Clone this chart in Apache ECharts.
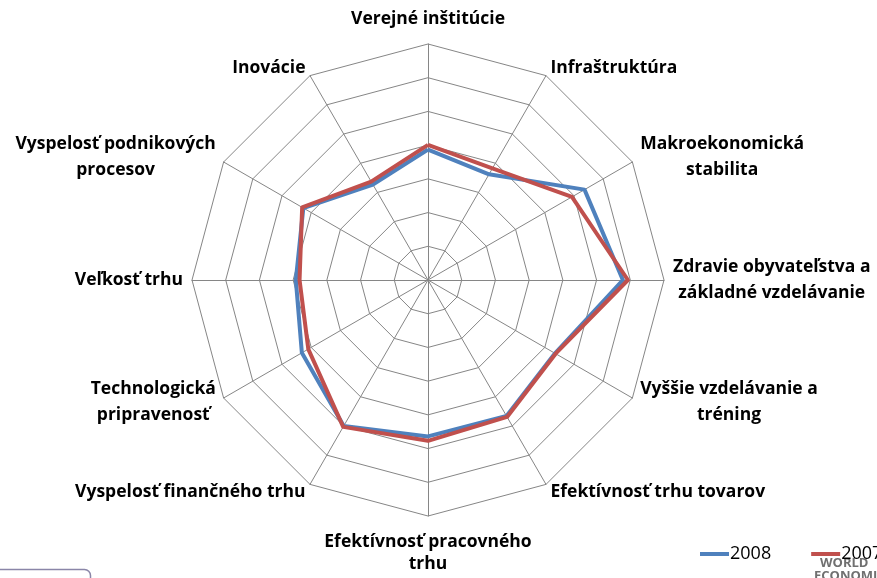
<!DOCTYPE html>
<html>
<head>
<meta charset="utf-8">
<script src="https://cdn.jsdelivr.net/npm/echarts@6/dist/echarts.min.js"></script>
<style>
  html, body { margin: 0; padding: 0; background: #fff; }
  #chart { width: 877px; height: 578px; }
</style>
</head>
<body>
<div id="chart"></div>
<script>
// indicators in clockwise order from the top
const pillars = [
  'Verejné inštitúcie',
  'Infraštruktúra',
  'Makroekonomická\nstabilita',
  'Zdravie obyvateľstva a\nzákladné vzdelávanie',
  'Vyššie vzdelávanie a\ntréning',
  'Efektívnosť trhu tovarov',
  'Efektívnosť pracovného\ntrhu',
  'Vyspelosť finančného trhu',
  'Technologická\npripravenosť',
  'Veľkosť trhu',
  'Vyspelosť podnikových\nprocesov',
  'Inovácie'
];
const scores2008 = [3.87, 3.62, 5.36, 5.78, 4.35, 4.66, 4.64, 5.0, 4.32, 3.92, 4.27, 3.27];
const scores2007 = [4.01, 3.82, 4.93, 5.93, 4.37, 4.69, 4.77, 5.03, 4.1, 3.81, 4.31, 3.37];
const scaleMax = 7;

// radar runs counter-clockwise, so flip everything after the first axis
const cw = arr => [arr[0]].concat(arr.slice(1).reverse());

const chart = echarts.init(document.getElementById('chart'));

const labelFont = '"Open Sans", sans-serif';

const option = {
  backgroundColor: '#fff',
  textStyle: { fontFamily: labelFont },
  legend: {
    left: 695,
    top: 540,
    width: 300,
    itemGap: 40,
    itemWidth: 29,
    itemHeight: 4,
    icon: 'rect',
    data: ['2008', '2007'],
    textStyle: { fontSize: 18, color: '#000', padding: [0, 0, 0, -4] }
  },
  radar: {
    center: [428, 280],
    radius: 236,
    startAngle: 90,
    shape: 'polygon',
    splitNumber: 7,
    axisNameGap: 9,
    indicator: cw(pillars).map(name => ({ name: name, min: 0, max: scaleMax })),
    axisName: {
      formatter: function (name) {
        let key = 'n';
        if (name === pillars[0]) key = 't';
        if (name === pillars[6]) key = 'b';
        return name.split('\n').map((line, i) =>
          '{' + (i === 0 ? key : 'n') + '|' + line + '}').join('\n');
      },
      rich: {
        n: { fontSize: 17.5, fontWeight: 'bold', color: '#000', align: 'center', lineHeight: 26, fontFamily: labelFont },
        t: { fontSize: 17.5, fontWeight: 'bold', color: '#000', align: 'center', lineHeight: 26, fontFamily: labelFont, padding: [0, 0, 6, 0] },
        b: { fontSize: 17.5, fontWeight: 'bold', color: '#000', align: 'center', lineHeight: 26, fontFamily: labelFont, padding: [8, 0, 0, 0] }
      }
    },
    splitArea: { show: false },
    splitLine: { lineStyle: { color: '#868686', width: 1 } },
    axisLine: { lineStyle: { color: '#868686', width: 1 } }
  },
  series: [{
    type: 'radar',
    symbol: 'none',
    silent: true,
    data: [
      {
        name: '2008',
        value: cw(scores2008),
        itemStyle: { color: '#4F81BD' },
        lineStyle: { color: '#4F81BD', width: 4 }
      },
      {
        name: '2007',
        value: cw(scores2007),
        itemStyle: { color: '#C0504D' },
        lineStyle: { color: '#C0504D', width: 4 }
      }
    ]
  }],
  graphic: [
    {
      type: 'text', left: 820, top: 557,
      style: { text: 'WORLD', fontSize: 13, fontWeight: 'bold', fill: '#707070', fontFamily: labelFont }
    },
    {
      type: 'text', left: 814, top: 570,
      style: { text: 'ECONOMIC', fontSize: 13, fontWeight: 'bold', fill: '#707070', fontFamily: labelFont }
    },
    {
      type: 'rect', left: -10, top: 567,
      shape: { width: 98, height: 30, r: 6 },
      style: { fill: 'none', stroke: '#8a86a8', lineWidth: 1.5 }
    }
  ]
};

chart.setOption(option);
</script>
</body>
</html>
